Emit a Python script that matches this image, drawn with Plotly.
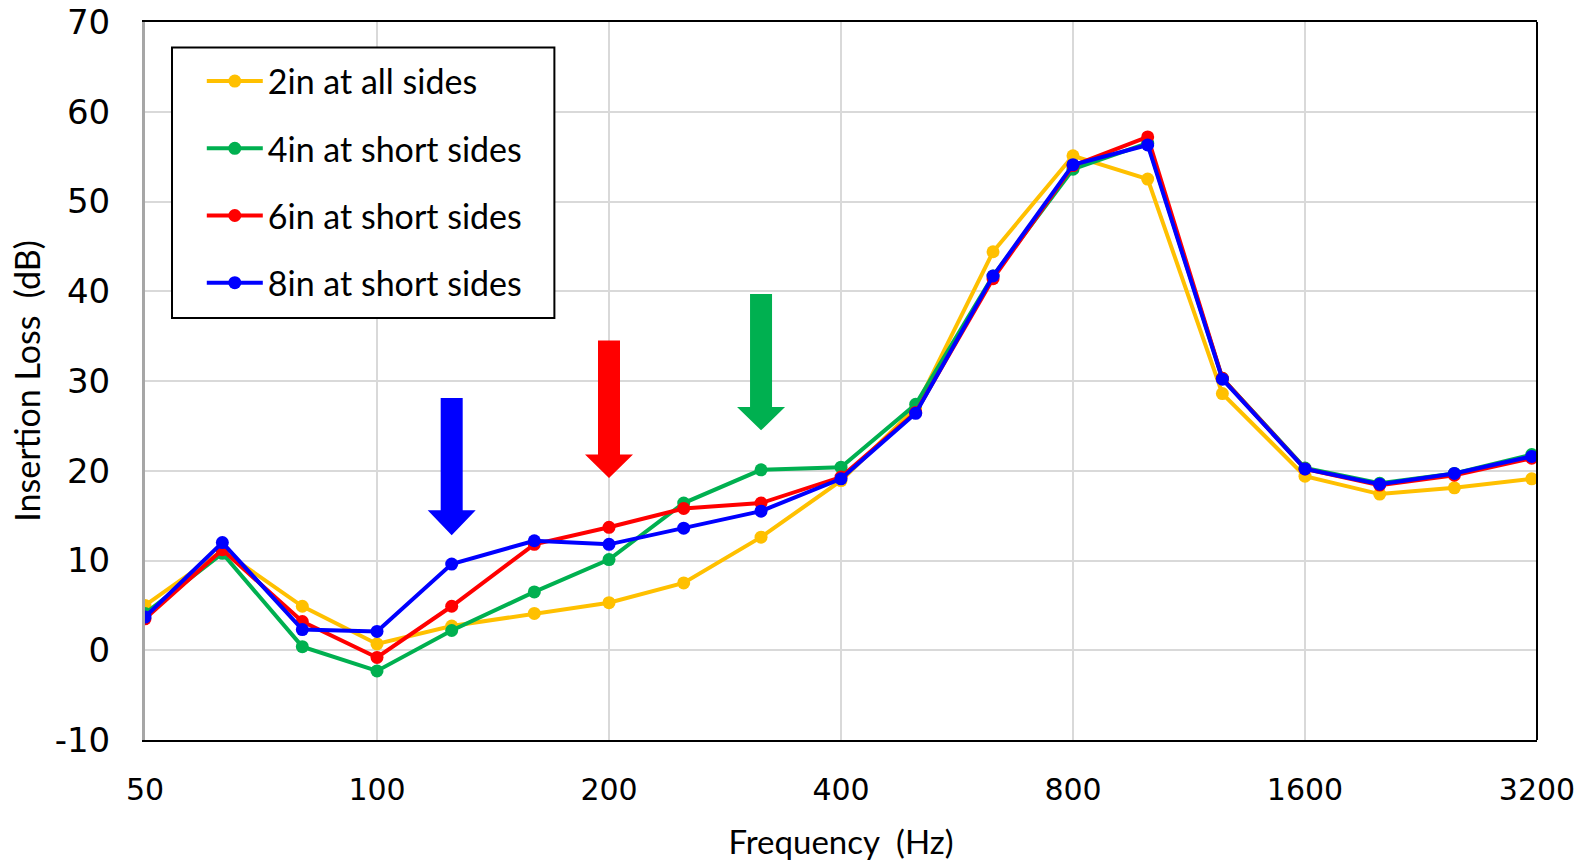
import numpy as np
import plotly.graph_objects as go

# --- dados
freqs = [50, 63, 80, 100, 125, 160, 200, 250, 315, 400, 500, 630, 800, 1000, 1250, 1600, 2000, 2500, 3150]

il_2in_all = [5.0, 11.1, 4.9, 0.7, 2.7, 4.1, 5.3, 7.5, 12.6, 18.9, 27.0, 44.4, 55.1, 52.5, 28.6, 19.4, 17.4, 18.1, 19.1]
il_4in_short = [4.1, 10.8, 0.4, -2.3, 2.2, 6.5, 10.1, 16.4, 20.1, 20.4, 27.4, 41.7, 53.6, 56.5, 30.3, 20.3, 18.6, 19.7, 21.8]
il_6in_short = [3.5, 11.2, 3.2, -0.8, 4.9, 11.8, 13.7, 15.8, 16.4, 19.3, 26.5, 41.4, 54.0, 57.2, 30.3, 20.2, 18.4, 19.5, 21.4]
il_8in_short = [3.7, 12.0, 2.3, 2.1, 9.6, 12.2, 11.8, 13.6, 15.5, 19.1, 26.4, 41.7, 54.1, 56.3, 30.2, 20.2, 18.5, 19.7, 21.6]

series_names = ["2in at all sides", "4in at short sides", "6in at short sides", "8in at short sides"]
series_colors = ["#FFC000", "#00B050", "#FF0000", "#0000FF"]

tick_freqs = [50, 100, 200, 400, 800, 1600, 3200]
tick_il = [-10, 0, 10, 20, 30, 40, 50, 60, 70]

# setas (frequência, topo, base da ponta, ponta)
arrow_freqs = [125, 200, 315]
arrow_tops = [28.1, 34.5, 39.7]
arrow_heads = [15.6, 21.8, 27.1]
arrow_tips = [12.8, 19.2, 24.5]
arrow_colors = ["#0000FF", "#FF0000", "#00B050"]

fig = go.Figure()

# setas largas desenhadas como polígonos
px_per_oct = 232.0
for f, top, head, tip, cor in zip(arrow_freqs, arrow_tops, arrow_heads, arrow_tips, arrow_colors):
    s = 2 ** (11 / px_per_oct)
    h = 2 ** (24 / px_per_oct)
    xs = [f / s, f * s, f * s, f * h, f, f / h, f / s, f / s]
    ys = [top, top, head, head, tip, head, head, top]
    fig.add_trace(go.Scatter(x=xs, y=ys, fill='toself', fillcolor=cor, mode='lines',
                             line=dict(width=0, color=cor), showlegend=False, hoverinfo='skip'))

for i, (nome, vals, cor) in enumerate(zip(series_names,
                                         [il_2in_all, il_4in_short, il_6in_short, il_8in_short],
                                         series_colors)):
    fig.add_trace(go.Scatter(x=freqs, y=vals, name=nome, mode='lines+markers',
                             line=dict(color=cor, width=4),
                             marker=dict(color=cor, size=13),
                             legendgroup=str(i)))

fig.update_xaxes(type='log', range=[np.log10(50), np.log10(3200)], automargin=False,
                 tickvals=tick_freqs, ticktext=[str(t) for t in tick_freqs],
                 ticklabeloverflow='allow',
                 showgrid=True, gridcolor='#d9d9d9', gridwidth=2,
                 showline=True, linecolor='black', linewidth=2, mirror=True,
                 ticks='', ticklabelstandoff=22,
                 tickfont=dict(family='DejaVu Sans', size=30, color='black'),
                 title=dict(text='Frequency\u00a0 (Hz)', standoff=30,
                            font=dict(family='Lato', size=33, color='black')))
fig.update_yaxes(range=[-10, 70], automargin=False,
                 tickvals=tick_il, ticktext=[str(t) for t in tick_il],
                 ticklabeloverflow='allow',
                 showgrid=True, gridcolor='#d9d9d9', gridwidth=2, zeroline=False,
                 showline=True, linecolor='#a6a6a6', linewidth=3,
                 ticks='', ticklabelstandoff=25,
                 tickfont=dict(family='DejaVu Sans', size=34, color='black'),
                 title=dict(text='Insertion Loss\u00a0 (dB)', standoff=4,
                            font=dict(family='Lato', size=34, color='black')))

# borda direita preta
fig.add_shape(type='line', xref='paper', yref='paper', x0=1, x1=1, y0=0, y1=1,
              line=dict(color='black', width=2))

# caixa da legenda
fig.add_shape(type='rect', xref='paper', yref='paper', x0=0.0194, x1=0.2941, y0=0.5877, y1=0.9645,
              fillcolor='white', line=dict(color='black', width=2), layer='above')

fig.update_layout(
    width=1583, height=861,
    margin=dict(l=145, r=46, t=22, b=121),
    plot_bgcolor='white', paper_bgcolor='white',
    font=dict(family='Lato', color='black'),
    legend=dict(x=0.0408, y=0.9575, xanchor='left', yanchor='top',
                bgcolor='rgba(0,0,0,0)', borderwidth=0,
                font=dict(family='Lato', size=34, color='black'),
                traceorder='grouped', tracegroupgap=20, itemwidth=56),
)

fig.write_html("out.html", config={'displayModeBar': False},
               post_script="document.body.style.margin='0';")
